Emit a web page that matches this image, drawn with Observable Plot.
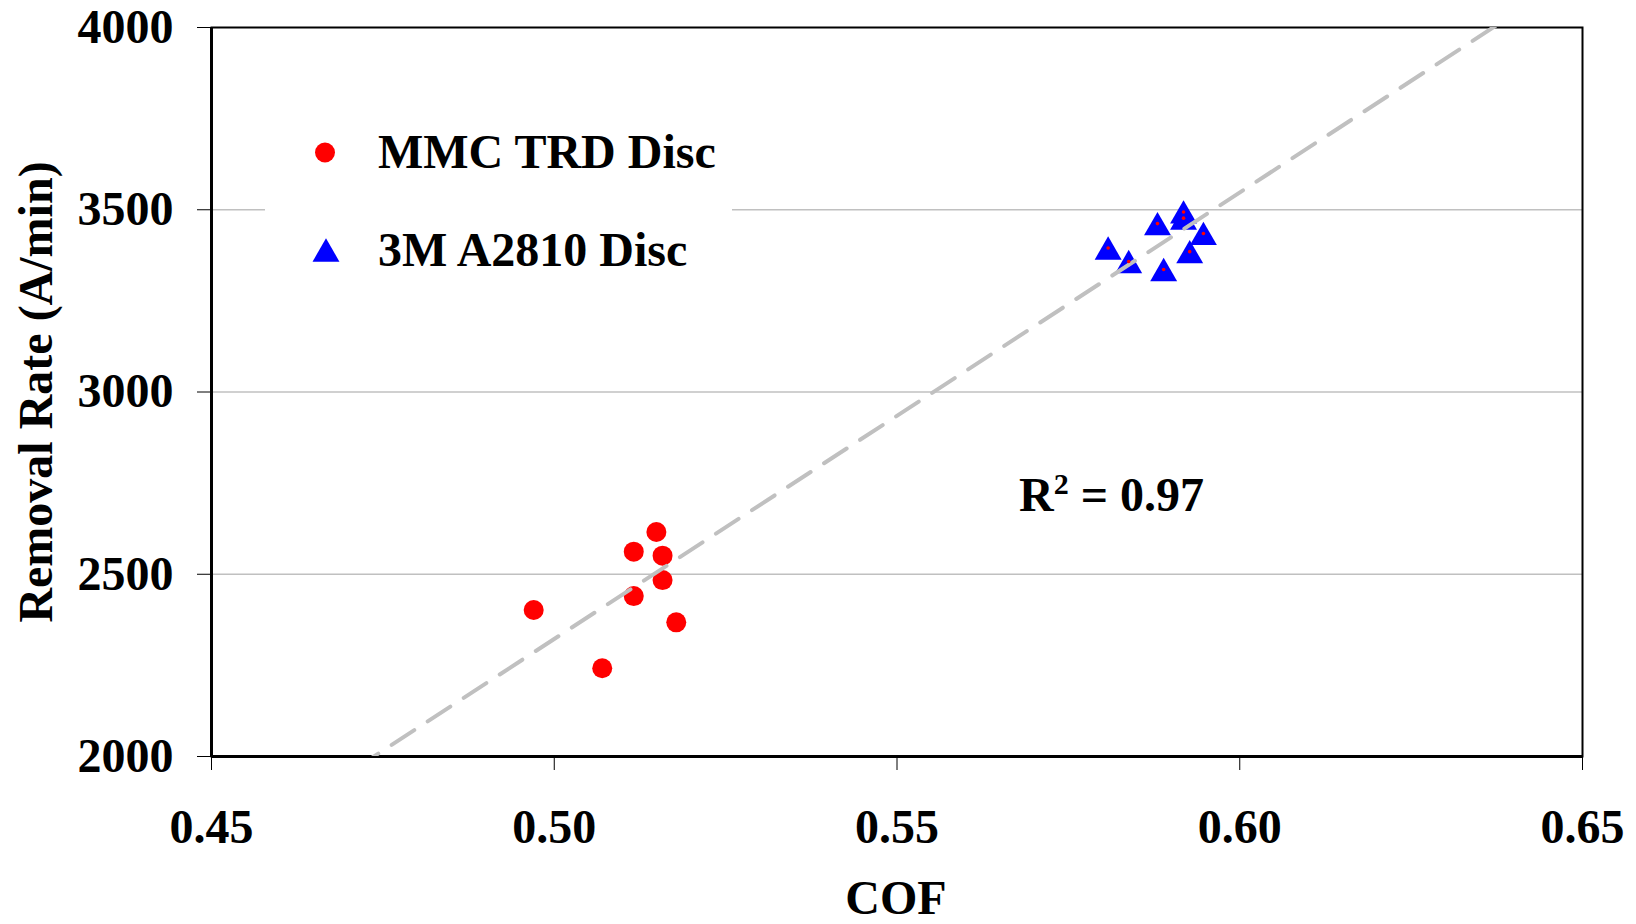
<!DOCTYPE html>
<html>
<head>
<meta charset="utf-8">
<script src="https://cdn.jsdelivr.net/npm/d3@7"></script>
<script src="https://cdn.jsdelivr.net/npm/@observablehq/plot@0.6"></script>
<style>
  body { margin: 0; background: #fff; }
  #chart { width: 1636px; height: 924px; }
  svg text { font-family: "Liberation Serif", "Times New Roman", serif; font-weight: bold; }
</style>
</head>
<body>
<div id="chart"></div>
<script>
// Coefficient of friction vs. removal rate for two pad conditioner discs
const seriesNames = ["MMC TRD Disc", "3M A2810 Disc"];
const mmcCOF  = [0.5149, 0.5116, 0.5158, 0.5158, 0.5116, 0.4970, 0.5178, 0.5070];
const mmcRate = [2616, 2562, 2551, 2484, 2440, 2402, 2368, 2242];
const a2810COF  = [0.5808, 0.5838, 0.5880, 0.5889, 0.5918, 0.5918, 0.5927, 0.5947];
const a2810Rate = [3395, 3358, 3462, 3336, 3494, 3477, 3385, 3435];
const xTicks = [0.45, 0.50, 0.55, 0.60, 0.65];
const yTicks = [2000, 2500, 3000, 3500, 4000];
const gridTicks = [2500, 3000, 3500];
const rSquaredText = "0.97";
const xTitle = "COF";
const yTitle = "Removal Rate (A/min)";

const mmc = mmcCOF.map((c, i) => ({cof: c, rate: mmcRate[i]}));
const a2810 = a2810COF.map((c, i) => ({cof: c, rate: a2810Rate[i]}));
const all = mmc.concat(a2810);

// Least-squares fit over both discs, extended across the x domain
const mx = d3.mean(all, d => d.cof), my = d3.mean(all, d => d.rate);
const slope = d3.sum(all, d => (d.cof - mx) * (d.rate - my)) / d3.sum(all, d => (d.cof - mx) ** 2);
const intercept = my - slope * mx;
const fit = [xTicks[0], xTicks[xTicks.length - 1]].map(c => ({cof: c, rate: intercept + slope * c}));

const font = {fontSize: 48, fontWeight: "bold", fontFamily: "Liberation Serif"};
const triR = 10;
// d3's triangle is centred on its centroid; shift it so its bounding box is centred on the point
const triShift = Math.sqrt(triR * triR * Math.PI / (3 * Math.sqrt(3))) / 2;

const chart = Plot.plot({
  width: 1636,
  height: 924,
  marginLeft: 211,
  marginRight: 54,
  marginTop: 27,
  marginBottom: 168,
  style: {fontFamily: "Liberation Serif", fontSize: "48px", fontWeight: "bold", background: "#fff", color: "#000"},
  x: {domain: [0.45, 0.65]},
  y: {domain: [2000, 4000]},
  marks: [
    Plot.ruleY(gridTicks, {stroke: "#c0c0c0", strokeWidth: 1.5}),
    Plot.axisX({ticks: xTicks, tickFormat: d => d.toFixed(2), tickSize: 14, tickPadding: 38, label: null, ...font}),
    Plot.axisY({ticks: yTicks, tickFormat: d => String(d), tickSize: 14, tickPadding: 24, label: null, ...font}),
    Plot.frame({stroke: "#000", strokeWidth: 2}),
    Plot.ruleX([0.45], {stroke: "#000", strokeWidth: 3}),
    Plot.ruleY([2000], {stroke: "#000", strokeWidth: 3}),
    Plot.dot(mmc, {x: "cof", y: "rate", r: 10, fill: "#ff0000", symbol: "circle"}),
    Plot.dot(a2810, {x: "cof", y: "rate", r: triR, dy: triShift, fill: "#0000ff", symbol: "triangle"}),
    Plot.line(fit, {x: "cof", y: "rate", stroke: "#c0c0c0", strokeWidth: 4, strokeDasharray: "27,16", clip: true}),
    Plot.dot(all, {x: "cof", y: "rate", r: 1.8, fill: "#ff0000"})
  ]
});
document.getElementById("chart").appendChild(chart);

const svg = d3.select(chart);

// Axis titles
svg.append("text")
  .attr("transform", "translate(52,392) rotate(-90)")
  .attr("text-anchor", "middle")
  .attr("font-size", 48)
  .text(yTitle);
svg.append("text")
  .attr("x", 896).attr("y", 914)
  .attr("text-anchor", "middle")
  .attr("font-size", 48)
  .text(xTitle);

// Legend box inside the plot area
const legend = svg.append("g");
legend.append("rect")
  .attr("x", 265).attr("y", 100).attr("width", 467).attr("height", 190)
  .attr("fill", "#fff");
legend.append("circle")
  .attr("cx", 325).attr("cy", 152.5).attr("r", 10).attr("fill", "#ff0000");
legend.append("path")
  .attr("transform", `translate(326,${250 + triShift})`)
  .attr("d", d3.symbol(d3.symbolTriangle, triR * triR * Math.PI)())
  .attr("fill", "#0000ff");
legend.selectAll("text.entry")
  .data(seriesNames)
  .join("text")
  .attr("class", "entry")
  .attr("x", 378)
  .attr("y", (d, i) => i === 0 ? 168 : 266)
  .attr("text-anchor", "start")
  .attr("font-size", 48)
  .text(d => d);

// Coefficient of determination
const r2 = svg.append("text")
  .attr("x", 1019).attr("y", 511)
  .attr("text-anchor", "start")
  .attr("font-size", 48);
r2.append("tspan").text("R");
r2.append("tspan").attr("font-size", 30).attr("dy", -17).text("2");
r2.append("tspan").attr("dy", 17).text(" = " + rSquaredText);
</script>
</body>
</html>
